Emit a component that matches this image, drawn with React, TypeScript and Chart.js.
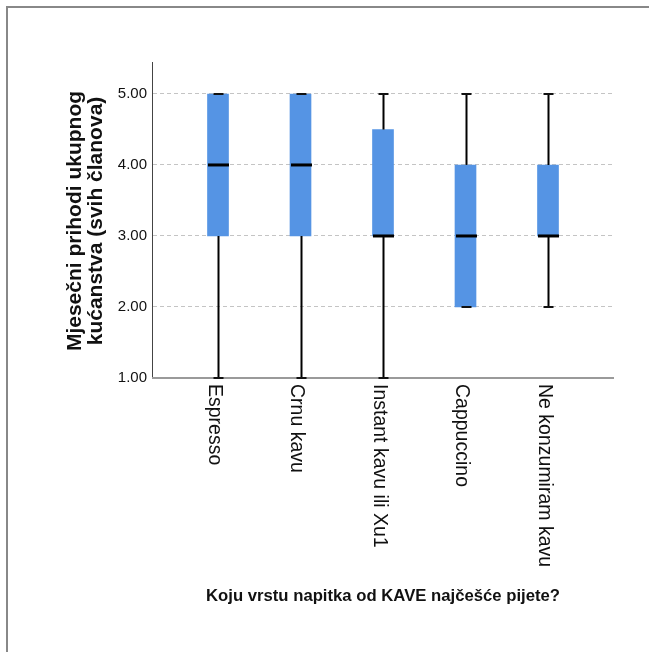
import React, { useEffect, useRef } from "react";
import { Chart, registerables } from "chart.js";

Chart.register(...registerables);

const categories = ["Espresso", "Crnu kavu", "Instant kavu ili Xu1", "Cappuccino", "Ne konzumiram kavu"];
const mins = [1, 1, 1, 2, 2];
const q1s = [3, 3, 3, 2, 3];
const medians = [4, 4, 3, 3, 3];
const q3s = [5, 5, 4.5, 4, 4];
const maxs = [5, 5, 5, 5, 5];
const yTicks = [1, 2, 3, 4, 5];
const yTitle = ["Mjesečni prihodi ukupnog", "kućanstva (svih članova)"];
const xTitle = "Koju vrstu napitka od KAVE najčešće pijete?";

const FONT = "'Liberation Sans', Arial, sans-serif";

export default function App() {
  const ref = useRef<HTMLCanvasElement | null>(null);

  useEffect(() => {
    const canvas = ref.current;
    if (!canvas) return;

    const boxPlugin = {
      id: "boxExtras",
      beforeDraw(chart: any) {
        const ctx = chart.ctx;
        ctx.save();
        ctx.fillStyle = "#ffffff";
        ctx.fillRect(0, 0, chart.width, chart.height);
        ctx.strokeStyle = "#888888";
        ctx.lineWidth = 2;
        ctx.beginPath();
        ctx.moveTo(6, 7);
        ctx.lineTo(chart.width + 2, 7);
        ctx.moveTo(7, 6);
        ctx.lineTo(7, chart.height + 2);
        ctx.stroke();
        ctx.restore();
      },
      afterDatasetsDraw(chart: any) {
        const ctx = chart.ctx;
        const xs = chart.scales.x;
        const ys = chart.scales.y;
        ctx.save();
        // x axis line
        ctx.strokeStyle = "#9a9a9a";
        ctx.lineWidth = 2;
        ctx.beginPath();
        ctx.moveTo(chart.chartArea.left, ys.getPixelForValue(1));
        ctx.lineTo(chart.chartArea.right, ys.getPixelForValue(1));
        ctx.stroke();

        categories.forEach((_, i) => {
          const cx = Math.round(xs.getPixelForValue(i + 1)) + 0.5;
          const pMin = ys.getPixelForValue(mins[i]);
          const pQ1 = ys.getPixelForValue(q1s[i]);
          const pMed = ys.getPixelForValue(medians[i]);
          const pQ3 = ys.getPixelForValue(q3s[i]);
          const pMax = ys.getPixelForValue(maxs[i]);
          ctx.strokeStyle = "#000000";
          ctx.lineWidth = 2;
          ctx.beginPath();
          if (pMin > pQ1) {
            ctx.moveTo(cx, pMin);
            ctx.lineTo(cx, pQ1);
          }
          if (pMax < pQ3) {
            ctx.moveTo(cx, pQ3);
            ctx.lineTo(cx, pMax);
          }
          ctx.stroke();
          // caps
          ctx.strokeStyle = "#111111";
          ctx.beginPath();
          ctx.moveTo(cx - 5, pMin);
          ctx.lineTo(cx + 5, pMin);
          ctx.moveTo(cx - 5, pMax);
          ctx.lineTo(cx + 5, pMax);
          ctx.stroke();
          // median
          ctx.strokeStyle = "#000000";
          ctx.lineWidth = 3;
          ctx.beginPath();
          ctx.moveTo(cx - 10.5, pMed);
          ctx.lineTo(cx + 10.5, pMed);
          ctx.stroke();
        });

        // category labels rotated clockwise
        ctx.fillStyle = "#111111";
        ctx.font = `19.5px ${FONT}`;
        ctx.textAlign = "left";
        ctx.textBaseline = "alphabetic";
        categories.forEach((c, i) => {
          const cx = xs.getPixelForValue(i + 1);
          ctx.save();
          ctx.translate(cx - 9.5, chart.chartArea.bottom + 6);
          ctx.rotate(Math.PI / 2);
          ctx.fillText(c, 0, 0);
          ctx.restore();
        });

        // y title
        ctx.font = `bold 21px ${FONT}`;
        ctx.textAlign = "center";
        const yc = (chart.chartArea.top + chart.chartArea.bottom) / 2 + 1;
        const baselines = [80.5, 101.5];
        yTitle.forEach((t, k) => {
          ctx.save();
          ctx.translate(baselines[k], yc);
          ctx.rotate(-Math.PI / 2);
          ctx.fillText(t, 0, 0);
          ctx.restore();
        });

        // x title
        ctx.font = `bold 16.7px ${FONT}`;
        ctx.textAlign = "center";
        ctx.fillText(xTitle, (chart.chartArea.left + chart.chartArea.right) / 2, 601);
        ctx.restore();
      },
    };

    const chart = new Chart(canvas, {
      type: "bar",
      data: {
        datasets: [
          {
            data: categories.map((_, i) => ({ x: i + 1, y: [q1s[i], q3s[i]] })) as any,
            backgroundColor: "#5594e4",
            borderWidth: 0,
            barThickness: 21,
          },
        ],
      },
      options: {
        responsive: false,
        animation: false,
        layout: { padding: { top: 62, right: 35, left: 0, bottom: 0 } },
        plugins: { legend: { display: false }, tooltip: { enabled: false } },
        scales: {
          x: {
            type: "linear",
            offset: false,
            min: 0.2,
            max: 5.8,
            ticks: { display: false },
            grid: { display: false, drawTicks: false },
            border: { display: false },
            afterFit(scale: any) {
              scale.height = 274;
            },
          },
          y: {
            type: "linear",
            min: 1,
            max: 5.45,
            afterBuildTicks(scale: any) {
              scale.ticks = yTicks.map((v) => ({ value: v }));
            },
            afterFit(scale: any) {
              scale.width = 152;
            },
            ticks: {
              padding: 5,
              color: "#111111",
              font: { family: FONT, size: 15 },
              callback: (v: any) => Number(v).toFixed(2),
            },
            grid: {
              drawTicks: false,
              color: "#c4c4c4",
              lineWidth: 1,
            },
            border: { display: true, color: "#444444", width: 1, dash: [4, 3] },
          },
        },
      },
      plugins: [boxPlugin],
    });

    return () => chart.destroy();
  }, []);

  return (
    <div style={{ position: "absolute", left: 0, top: 0, width: 649, height: 652 }}>
      <canvas ref={ref} width={649} height={652} style={{ display: "block" }} />
    </div>
  );
}
